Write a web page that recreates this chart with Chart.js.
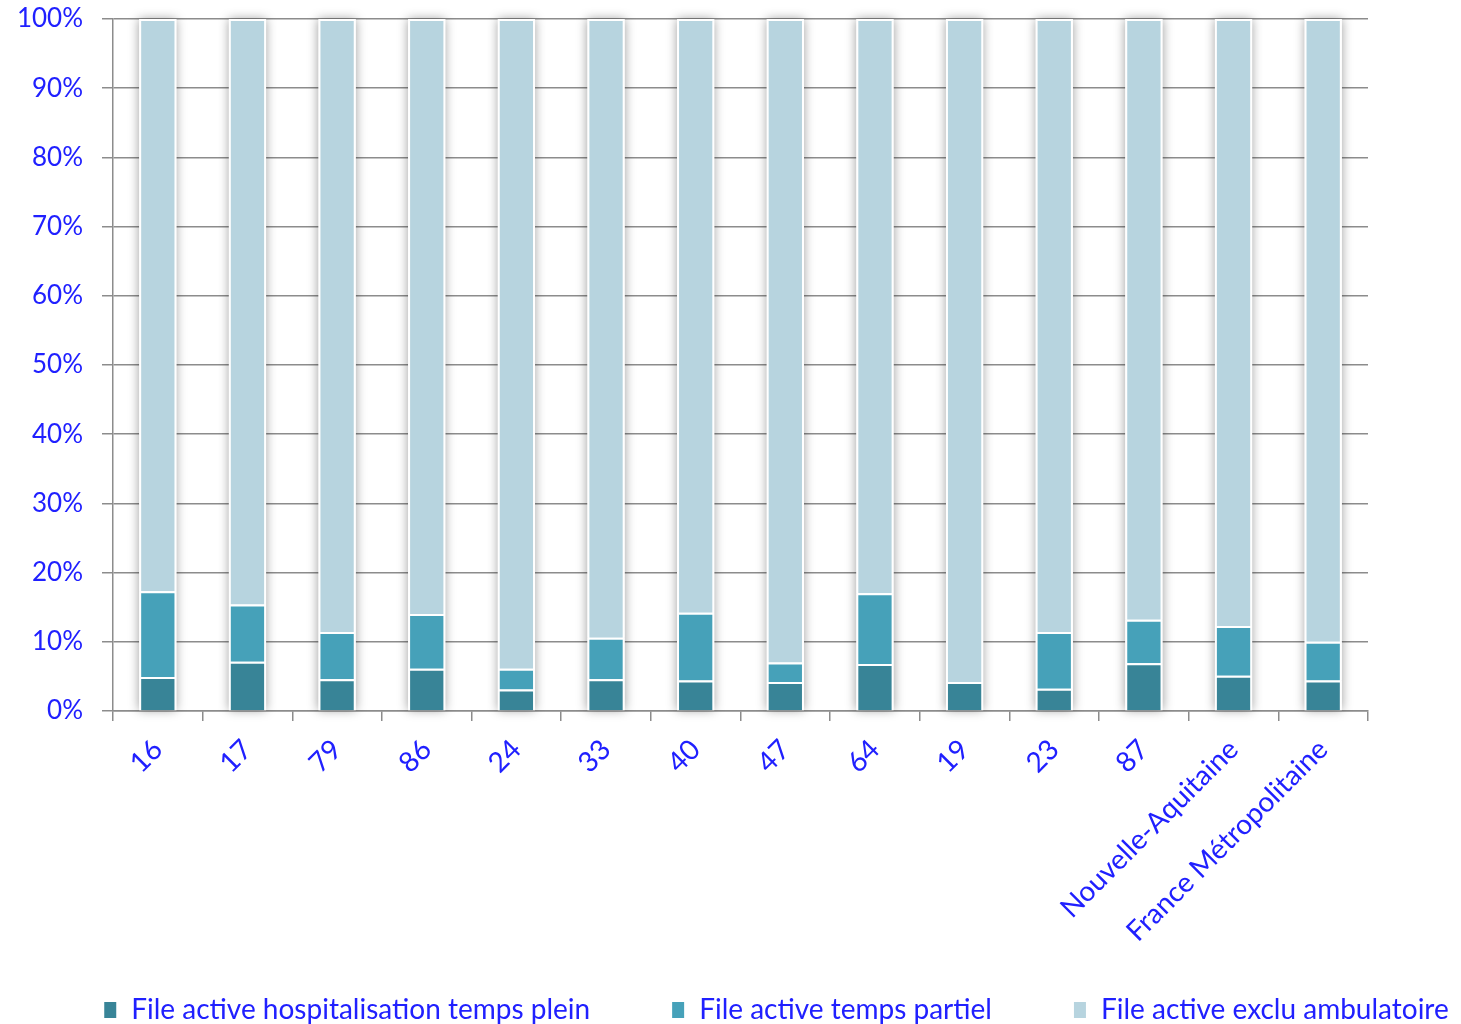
<!DOCTYPE html>
<html>
<head>
<meta charset="utf-8">
<script src="https://cdn.jsdelivr.net/npm/chart.js@4.4.1/dist/chart.umd.min.js"></script>
<style>
  html, body { margin: 0; padding: 0; background: #ffffff; }
  #wrap { width: 1461px; height: 1024px; }
</style>
</head>
<body>
<div id="wrap"><canvas id="c" width="1461" height="1024"></canvas></div>
<script>
// Répartition de la file active par département (en %)
const categories = ['16', '17', '79', '86', '24', '33', '40', '47', '64', '19', '23', '87', 'Nouvelle-Aquitaine', 'France Métropolitaine'];
const hospitTempsPlein = [4.9, 7.1, 4.6, 6.1, 3.1, 4.6, 4.4, 4.2, 6.8, 4.2, 3.2, 6.9, 5.1, 4.4];
const tempsPartiel     = [12.4, 8.3, 6.8, 7.9, 3.0, 6.0, 9.8, 2.8, 10.2, 0.0, 8.2, 6.3, 7.2, 5.6];
const exclAmbulatoire  = [82.7, 84.6, 88.6, 86.0, 93.9, 89.4, 85.8, 93.0, 83.0, 95.8, 88.6, 86.8, 87.7, 90.0];
const seriesNames = ['File active hospitalisation temps plein', 'File active temps partiel', 'File active exclu ambulatoire'];
const yTicks = [0, 10, 20, 30, 40, 50, 60, 70, 80, 90, 100];

const TEXT_BLUE = '#2020ff';
const GRID = '#8c8c8c';
const FAMILY = 'Lato, "Open Sans", sans-serif';
const X_FONT = { family: FAMILY, size: 28 };
const Y_FONT = { family: FAMILY, size: 26 };
const LEGEND_FONT = { family: FAMILY, size: 28 };

// soft drop shadow behind each stacked column
const columnShadow = {
  id: 'columnShadow',
  beforeDatasetsDraw(chart) {
    const ctx = chart.ctx;
    const metas = chart.data.datasets.map((d, i) => chart.getDatasetMeta(i));
    ctx.save();
    ctx.shadowColor = 'rgba(0,0,0,0.38)';
    ctx.shadowBlur = 10;
    ctx.fillStyle = '#ffffff';
    metas[0].data.forEach((el, idx) => {
      let top = Infinity, base = -Infinity;
      metas.forEach(m => {
        const e = m.data[idx];
        top = Math.min(top, e.y, e.base);
        base = Math.max(base, e.y, e.base);
      });
      ctx.fillRect(el.x - el.width / 2, top, el.width, base - top);
    });
    ctx.restore();
  }
};

new Chart(document.getElementById('c'), {
  type: 'bar',
  data: {
    labels: categories,
    datasets: [
      { label: seriesNames[0], data: hospitTempsPlein, backgroundColor: '#388497' },
      { label: seriesNames[1], data: tempsPartiel, backgroundColor: '#46a1b9' },
      { label: seriesNames[2], data: exclAmbulatoire, backgroundColor: '#b7d4df' }
    ]
  },
  options: {
    responsive: false,
    animation: false,
    devicePixelRatio: 1,
    layout: { padding: { top: 19, left: 0, right: -91, bottom: -10 } },
    datasets: {
      bar: {
        barPercentage: 0.416,
        categoryPercentage: 1,
        borderColor: '#ffffff',
        borderWidth: 2,
        borderSkipped: 'start'
      }
    },
    plugins: {
      legend: {
        position: 'bottom',
        align: 'center',
        labels: {
          color: TEXT_BLUE,
          font: LEGEND_FONT,
          boxWidth: 14,
          boxHeight: 18,
          padding: 81
        }
      },
      tooltip: { enabled: false }
    },
    scales: {
      x: {
        stacked: true,
        grid: { drawOnChartArea: false, drawTicks: true, tickLength: 10, color: GRID, lineWidth: 1.5 },
        border: { display: true, color: GRID, width: 1.5 },
        ticks: { color: TEXT_BLUE, font: X_FONT, minRotation: 45, maxRotation: 45, padding: 12 },
        afterFit(scale) {
          scale.height = 204;
          // long rotated labels may run below the axis box
          scale._computeLabelArea = () => undefined;
        }
      },
      y: {
        stacked: true,
        min: 0,
        max: 100,
        afterBuildTicks(scale) { scale.ticks = yTicks.map(v => ({ value: v })); },
        grid: { color: GRID, lineWidth: 1.5, tickLength: 11, drawTicks: true },
        border: { display: true, color: GRID, width: 1.5 },
        ticks: { color: TEXT_BLUE, font: Y_FONT, padding: 19, callback: v => v + '%' },
        afterFit(scale) {
          scale.width = 113;
          scale.paddingTop = 0;
          scale.paddingBottom = 0;
        }
      },
      yRight: {
        position: 'right',
        display: true,
        grid: { display: false, drawTicks: false },
        border: { display: false },
        ticks: { display: false },
        afterFit(scale) { scale.width = 184; }
      }
    }
  },
  plugins: [columnShadow]
});
</script>
</body>
</html>
